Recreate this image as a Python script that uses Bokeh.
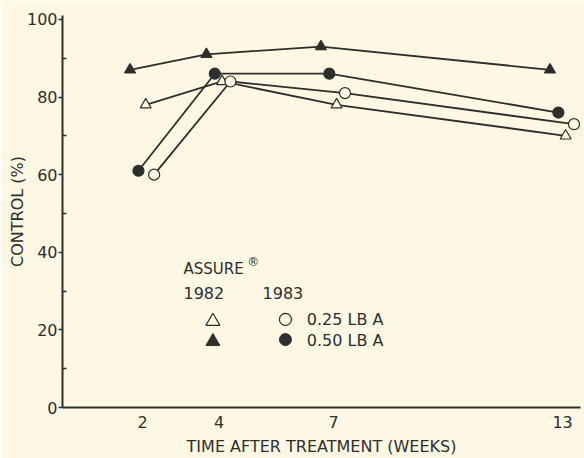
from bokeh.plotting import figure
from bokeh.models import ColumnDataSource, Range1d, FixedTicker, Label
from bokeh.transform import dodge
from bokeh.embed import file_html
from bokeh.resources import INLINE

# ---- data ----
weeks = [2, 4, 7, 13]
x_tick_labels = ["2", "4", "7", "13"]
y_ticks = [0, 20, 40, 60, 80, 100]
y_minor_ticks = [10, 30, 50, 70, 90]
y_tick_labels = ["0", "20", "40", "60", "80", "100"]
ctrl_1982_025 = [78, 84, 78, 70]   # open triangle
ctrl_1982_050 = [87, 91, 93, 87]   # filled triangle
ctrl_1983_025 = [60, 84, 81, 73]   # open circle
ctrl_1983_050 = [61, 86, 86, 76]   # filled circle

x_title = "TIME AFTER TREATMENT (WEEKS)"
y_title = "CONTROL (%)"
legend_title = "ASSURE"
legend_years = ["1982", "1983"]
legend_rates = ["0.25 LB A", "0.50 LB A"]

BG = "#fcf8e4"
INK = "#2e2e2e"
FONT = "DejaVu Sans"

src = ColumnDataSource(dict(
    w=weeks, a=ctrl_1982_025, b=ctrl_1982_050, c=ctrl_1983_025, d=ctrl_1983_050))

p = figure(width=584, height=458, output_backend="svg", toolbar_location=None,
           x_range=Range1d(-0.1, 13.47), y_range=Range1d(0, 101),
           min_border_left=62, min_border_right=4, min_border_top=15, min_border_bottom=51)
p.background_fill_color = BG
p.border_fill_color = BG
p.outline_line_color = None
p.grid.visible = False

# axes
p.yaxis.ticker = FixedTicker(ticks=y_ticks, minor_ticks=y_minor_ticks)
p.yaxis.major_label_overrides = {t: l for t, l in zip(y_ticks, y_tick_labels)}
p.yaxis.axis_line_width = 2
p.yaxis.axis_line_color = INK
p.yaxis.major_tick_line_color = INK
p.yaxis.major_tick_line_width = 1.5
p.yaxis.major_tick_out = 4
p.yaxis.major_tick_in = 0
p.yaxis.minor_tick_line_color = INK
p.yaxis.minor_tick_line_width = 1.5
p.yaxis.minor_tick_in = 4
p.yaxis.minor_tick_out = 0
p.yaxis.major_label_standoff = 1
p.yaxis.axis_label = y_title
p.yaxis.axis_label_standoff = -3

p.xaxis.ticker = FixedTicker(ticks=weeks)
p.xaxis.major_label_overrides = {t: l for t, l in zip(weeks, x_tick_labels)}
p.xaxis.axis_line_width = 2
p.xaxis.axis_line_color = INK
p.xaxis.major_tick_out = 0
p.xaxis.major_tick_in = 0
p.xaxis.minor_tick_line_color = None
p.xaxis.major_label_standoff = 8
p.xaxis.axis_label = x_title
p.xaxis.axis_label_standoff = 6

for ax in (p.xaxis, p.yaxis):
    ax.major_label_text_font = FONT
    ax.major_label_text_font_size = "16px"
    ax.major_label_text_color = INK
    ax.axis_label_text_font = FONT
    ax.axis_label_text_font_size = "16px"
    ax.axis_label_text_font_style = "normal"
    ax.axis_label_text_color = INK

# series: (column, dodge offset, marker, filled)
series = [
    ("b", -0.33, "triangle", True),
    ("d", -0.11, "circle", True),
    ("a", 0.08, "triangle", False),
    ("c", 0.30, "circle", False),
]
for col, off, _, _ in series:
    p.line(x=dodge("w", off), y=col, source=src, line_color=INK, line_width=1.8)
for col, off, marker, filled in series:
    p.scatter(x=dodge("w", off), y=col, source=src, marker=marker, size=11,
              fill_color=INK if filled else BG, line_color=INK, line_width=1.2)

# legend (hand-built)
def lab(x, y, t, size="16px"):
    p.add_layout(Label(x=x, y=y, text=t, text_align="left", text_baseline="middle",
                       text_font=FONT, text_font_size=size, text_color=INK))

lab(3.07, 35.6, legend_title, "15px")
lab(4.74, 37.6, "\u00ae", "12px")
lab(3.07, 29.4, legend_years[0])
lab(5.14, 29.4, legend_years[1])
lab(6.30, 22.7, legend_rates[0])
lab(6.30, 17.3, legend_rates[1])
p.scatter(x=[3.84], y=[22.2], marker="triangle", size=14, fill_color=BG, line_color=INK, line_width=1.2)
p.scatter(x=[3.84], y=[17.0], marker="triangle", size=14, fill_color=INK, line_color=INK)
p.scatter(x=[5.74], y=[22.7], marker="circle", size=12, fill_color=BG, line_color=INK, line_width=1.2)
p.scatter(x=[5.74], y=[17.5], marker="circle", size=12, fill_color=INK, line_color=INK)

open("out.html", "w").write(file_html(p, INLINE))
